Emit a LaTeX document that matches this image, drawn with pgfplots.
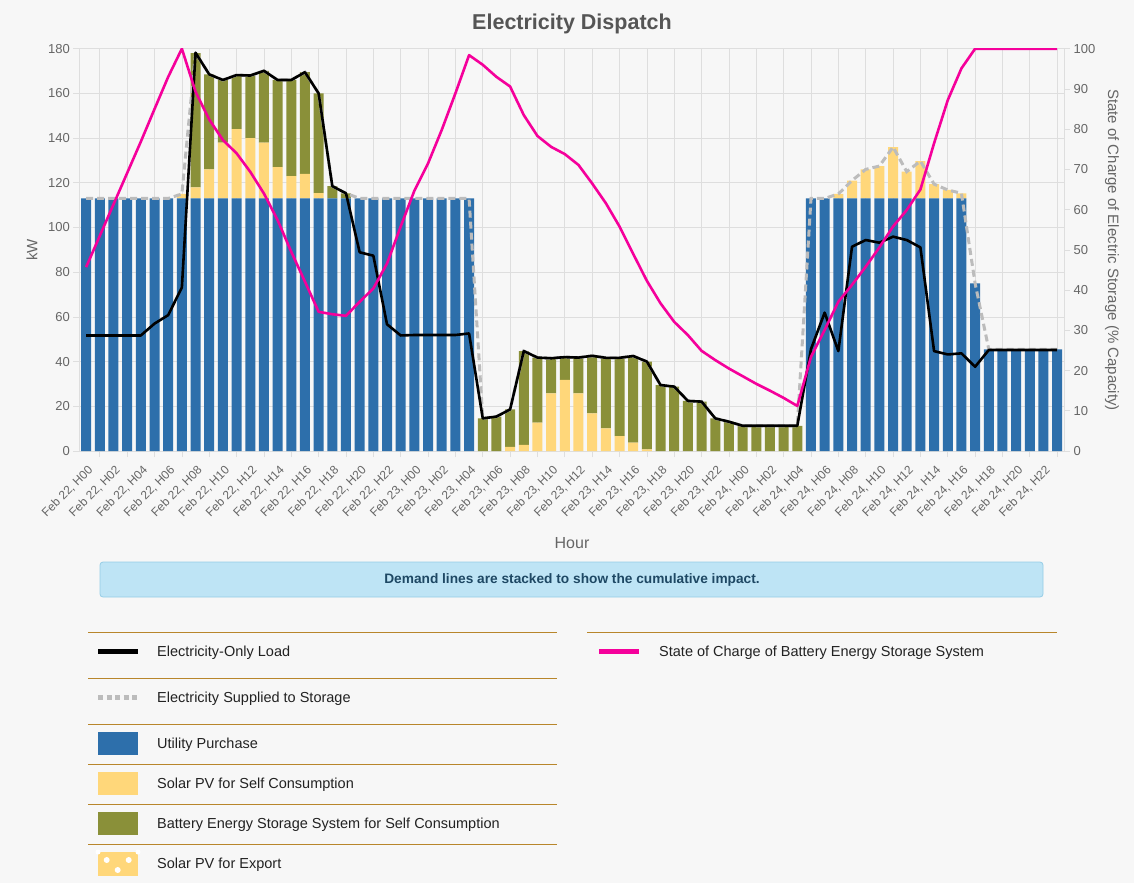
\documentclass[border=0pt]{standalone}
\usepackage{pgfplots}
\pgfplotsset{compat=1.18}
\usepackage{pgfplotstable}
\usepackage{fontspec}
\setmainfont{Liberation Sans}
\definecolor{bg}{RGB}{247,247,247}
\definecolor{cblue}{RGB}{45,111,171}
\definecolor{cyel}{RGB}{255,215,122}
\definecolor{colive}{RGB}{138,144,57}
\definecolor{cpink}{RGB}{245,0,155}
\definecolor{cdash}{RGB}{188,188,188}
\definecolor{cgrid}{RGB}{222,222,222}
\definecolor{ctick}{RGB}{102,102,102}
\definecolor{cgold}{RGB}{184,134,43}
\definecolor{cinfo}{RGB}{190,228,245}
\definecolor{cinfod}{RGB}{150,205,230}
\definecolor{cinfot}{RGB}{30,72,100}
\definecolor{ctitle}{RGB}{85,85,85}
\definecolor{ctext}{RGB}{34,34,34}

\pgfplotstableread{
x util solar batt load supply soc
0 113 0 0 51.7 113 45.7
1 113 0 0 51.7 113 53.5
2 113 0 0 51.7 113 61.3
3 113 0 0 51.7 113 69.1
4 113 0 0 51.7 113 76.9
5 113 0 0 57.0 113 85.0
6 113 0 0 60.8 113 93.0
7 113 2 0 73.2 115 100
8 113 5 60 178.2 178.2 89.3
9 113 13 42.5 168.5 168.5 82.4
10 113 25 28 166 166 77.3
11 113 31 24.2 168.2 168.2 74.0
12 113 27 28 168 168 69.4
13 113 25 32.1 170.1 170.1 64.0
14 113 14 39 166 166 57.4
15 113 10 43 166 166 49.5
16 113 11 45.5 169.5 169.5 42.1
17 113 2.4 44.6 160 160 34.6
18 113 0 5.5 118.5 118.5 34.0
19 113 0 2.3 115.3 115.3 33.6
20 113 0 0 88.9 113 37.1
21 113 0 0 87.4 113 40.4
22 113 0 0 56.7 113 46.6
23 113 0 0 51.7 113 55.8
24 113 0 0 51.9 113 64.7
25 113 0 0 51.9 113 71.5
26 113 0 0 51.9 113 79.8
27 113 0 0 51.9 113 88.9
28 113 0 0 52.6 113 98.4
29 0 0 14.6 14.6 14.6 96.0
30 0 0 15.4 15.4 15.4 93.0
31 0 1.9 16.7 18.6 18.6 90.6
32 0 2.7 42 44.7 44.7 83.5
33 0 12.7 29.1 41.8 41.8 78.3
34 0 25.8 15.7 41.5 41.5 75.6
35 0 31.8 10.2 42.0 42.0 73.8
36 0 25.8 16.0 41.8 41.8 71.1
37 0 16.8 25.8 42.6 42.6 66.5
38 0 10.1 31.6 41.7 41.7 61.6
39 0 6.7 35 41.7 41.7 55.8
40 0 3.7 38.8 42.5 42.5 49.0
41 0 0.7 39.3 40 40 42.3
42 0 0 29.5 29.5 29.5 36.7
43 0 0 28.8 28.8 28.8 32.1
44 0 0 22.4 22.4 22.4 28.8
45 0 0 22.1 22.1 22.1 24.9
46 0 0 14.6 14.6 14.6 22.6
47 0 0 13.1 13.1 13.1 20.5
48 0 0 11.3 11.3 11.3 18.6
49 0 0 11.3 11.3 11.3 16.7
50 0 0 11.3 11.3 11.3 15.0
51 0 0 11.3 11.3 11.3 13.2
52 0 0 11.3 11.3 11.3 11.2
53 113 0 0 45.6 113 23.4
54 113 0 0 61.9 113 30.1
55 113 2 0 44.7 115 37.1
56 113 8 0 91.4 121 41.3
57 113 13 0 94.4 126 45.8
58 113 14.5 0 93.2 127.5 50.6
59 113 23 0 95.9 136 55.8
60 113 12 0 94.4 125 59.9
61 113 16.7 0 91.1 129.7 65.0
62 113 6.4 0 44.7 119.4 76.5
63 113 3.8 0 43.2 116.8 87.2
64 113 2.3 0 43.7 115.3 95.1
65 75 0 0 37.7 75 100
66 45.5 0 0 45.2 45.5 100
67 45.5 0 0 45.2 45.5 100
68 45.5 0 0 45.2 45.5 100
69 45.5 0 0 45.2 45.5 100
70 45.5 0 0 45.2 45.5 100
71 45.5 0 0 45.2 45.5 100
}\dispatch

\pgfplotsset{
  baseax/.style={
    at={(79.3pt,-451pt)}, anchor=south west,
    scale only axis, width=984.7pt, height=402.3pt,
    xmin=-0.5, xmax=71.5,
    /pgf/number format/assume math mode=true,
    tick label style={font=\fontsize{13}{15}\selectfont, text=ctick},
    tick align=outside, major tick length=6pt,
    tick style={cgrid, line width=0.7pt},
  }
}

\begin{document}
\begin{tikzpicture}
\path[use as bounding box, fill=bg] (0pt,0pt) rectangle (1134pt,-883pt);

\begin{axis}[baseax,
  ymin=0, ymax=180,
  ybar stacked, bar width=10pt,
  axis line style={cgrid, line width=0.7pt},
  ytick={0,20,...,180}, ytick pos=left,
  ymajorgrids, xmajorgrids,
  grid style={cgrid, line width=0.7pt},
  xtick={1,3,...,71}, xticklabels={}, xtick pos=bottom,
  extra x ticks={0,2,...,70},
  extra x tick labels={{Feb 22, H00},{Feb 22, H02},{Feb 22, H04},{Feb 22, H06},{Feb 22, H08},{Feb 22, H10},{Feb 22, H12},{Feb 22, H14},{Feb 22, H16},{Feb 22, H18},{Feb 22, H20},{Feb 22, H22},{Feb 23, H00},{Feb 23, H02},{Feb 23, H04},{Feb 23, H06},{Feb 23, H08},{Feb 23, H10},{Feb 23, H12},{Feb 23, H14},{Feb 23, H16},{Feb 23, H18},{Feb 23, H20},{Feb 23, H22},{Feb 24, H00},{Feb 24, H02},{Feb 24, H04},{Feb 24, H06},{Feb 24, H08},{Feb 24, H10},{Feb 24, H12},{Feb 24, H14},{Feb 24, H16},{Feb 24, H18},{Feb 24, H20},{Feb 24, H22}},
  extra x tick style={grid=none, major tick length=0pt,
    tick label style={font=\fontsize{12}{14}\selectfont, yshift=-12pt, xshift=1pt, rotate=45, anchor=north east, inner sep=1pt}},
]
\addplot[fill=cblue, draw=none] table[x=x, y=util]{\dispatch};
\addplot[fill=cyel, draw=none] table[x=x, y=solar]{\dispatch};
\addplot[fill=colive, draw=none] table[x=x, y=batt]{\dispatch};
\end{axis}

\begin{axis}[baseax, ymin=0, ymax=180, hide axis]
\addplot[cdash, line width=3pt, dash pattern=on 7pt off 4pt] table[x=x, y=supply]{\dispatch};
\addplot[black, line width=2.6pt, line join=round] table[x=x, y=load]{\dispatch};
\end{axis}

\begin{axis}[baseax, ymin=0, ymax=100,
  axis y line*=right, axis x line=none,
  y axis line style={cgrid, line width=0.7pt},
  ytick={0,10,...,100},
]
\addplot[cpink, line width=2.6pt, line join=round] table[x=x, y=soc]{\dispatch};
\end{axis}

% titles and axis labels
\node[font=\fontsize{21.5}{24}\selectfont\bfseries, text=ctitle] at (572pt,-24pt) {Electricity Dispatch};
\node[rotate=90, font=\fontsize{15}{18}\selectfont, text=ctick] at (32pt,-250pt) {kW};
\node[rotate=-90, font=\fontsize{15}{18}\selectfont, text=ctick] at (1112pt,-250pt) {State of Charge of Electric Storage (\% Capacity)};
\node[font=\fontsize{16}{19}\selectfont, text=ctick] at (572pt,-543pt) {Hour};

% info box
\draw[fill=cinfo, draw=cinfod, line width=0.8pt, rounded corners=3pt] (100pt,-562pt) rectangle (1043pt,-597pt);
\node[text=cinfot, font=\fontsize{13.7}{16}\selectfont\bfseries] at (572pt,-579.5pt) {Demand lines are stacked to show the cumulative impact.};

% legend
\foreach \yy in {632,678,724,764,804,844}
  \draw[cgold, line width=1pt] (88pt,{-\yy*1pt}) -- (557pt,{-\yy*1pt});
\draw[cgold, line width=1pt] (587pt,-632pt) -- (1057pt,-632pt);

\draw[black, line width=5pt] (98pt,-651pt) -- (138pt,-651pt);
\draw[cdash, line width=5pt, dash pattern=on 5pt off 3.5pt] (98pt,-697pt) -- (138pt,-697pt);
\fill[cblue] (98pt,-732pt) rectangle (138pt,-755pt);
\fill[cyel] (98pt,-772pt) rectangle (138pt,-795pt);
\fill[colive] (98pt,-812pt) rectangle (138pt,-835pt);
\fill[cyel] (98pt,-852pt) rectangle (138pt,-876pt);
\fill[white] (106.7pt,-860pt) circle (3pt) (128.7pt,-860pt) circle (3pt) (117.7pt,-870pt) circle (3pt)
  (98pt,-852pt) circle (2.5pt) (138pt,-852pt) circle (2.5pt);
\draw[cpink, line width=5pt] (599pt,-651pt) -- (639pt,-651pt);

\begin{scope}[every node/.style={anchor=base west, font=\fontsize{14.5}{17}\selectfont, text=ctext, inner sep=0pt}]
\node at (157pt,-656.5pt) {Electricity-Only Load};
\node at (157pt,-702.5pt) {Electricity Supplied to Storage};
\node at (157pt,-748.5pt) {Utility Purchase};
\node at (157pt,-788.5pt) {Solar PV for Self Consumption};
\node at (157pt,-828.5pt) {Battery Energy Storage System for Self Consumption};
\node at (157pt,-868.5pt) {Solar PV for Export};
\node at (659pt,-656.5pt) {State of Charge of Battery Energy Storage System};
\end{scope}
\end{tikzpicture}
\end{document}
